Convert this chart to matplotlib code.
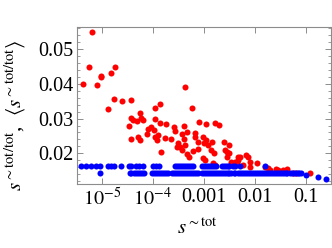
import matplotlib
matplotlib.use("Agg")
import matplotlib.pyplot as plt
from matplotlib.ticker import FixedLocator, FixedFormatter, LogLocator, MultipleLocator

# red points: s~tot/tot per item
red_x = [6.3e-6, 4.3e-6, 5.5e-6, 7.9e-6, 9.4e-6, 9.6e-6, 1.5e-5, 1.8e-5, 1.72e-5, 2.45e-5,
         1.3e-5, 3.75e-5, 3.7e-5, 4.1e-5, 4.8e-5, 5.55e-5, 5.8e-5, 6.4e-5, 3.4e-5, 3.8e-5,
         5.0e-5, 5.5e-5, 7.6e-5, 7.9e-5, 9.0e-5, 1.06e-4, 1.1e-4, 1.11e-4, 1.38e-4, 1.38e-4,
         1.12e-4, 1.23e-4, 1.25e-4, 1.45e-4, 1.8e-4, 1.74e-4, 4.27e-4, 5.9e-4, 7.9e-4, 1.1e-3,
         1.65e-3, 1.97e-3, 2.55e-4, 2.7e-4, 4.1e-4, 3.75e-4, 4.7e-4, 2.3e-4, 3.15e-4, 2.95e-4,
         3.4e-4, 3.7e-4, 4.1e-4, 4.25e-4, 5.1e-4, 4.7e-4, 6.2e-4, 6.7e-4, 6.6e-4, 7.7e-4,
         7.7e-4, 9.7e-4, 1.0e-3, 1.13e-3, 1.2e-3, 1.37e-3, 1.48e-3, 1.57e-3, 9.7e-4, 1.05e-3,
         2.5e-3, 2.6e-3, 2.9e-3, 3.2e-3, 3.2e-3, 2.85e-3, 3.5e-3, 4.05e-3, 4.7e-3, 4.7e-3,
         1.5e-3, 1.65e-3, 5.1e-3, 6.9e-3, 7.4e-3, 8.0e-3, 4.45e-3, 5.9e-3, 8.0e-3, 1.13e-2,
         1.57e-2, 1.8e-2, 1.97e-2, 2.58e-2, 2.85e-2, 3.6e-2, 4.25e-2, 5.55e-2, 6.6e-2, 0.12]
red_y = [0.0549, 0.0400, 0.0450, 0.0396, 0.0421, 0.0424, 0.0432, 0.0450, 0.0356, 0.0351,
         0.0329, 0.0354, 0.0301, 0.0296, 0.0294, 0.0315, 0.0303, 0.0295, 0.0280, 0.0242,
         0.0246, 0.0238, 0.0256, 0.0269, 0.0276, 0.0267, 0.0298, 0.0330, 0.0341, 0.0286,
         0.0246, 0.0238, 0.0253, 0.0205, 0.0285, 0.0243, 0.0392, 0.0330, 0.0289, 0.0284,
         0.0287, 0.0281, 0.0277, 0.0265, 0.0280, 0.0256, 0.0262, 0.0240, 0.0229, 0.0219,
         0.0219, 0.0210, 0.0240, 0.0224, 0.0190, 0.0198, 0.0208, 0.0258, 0.0248, 0.0233,
         0.0212, 0.0246, 0.0229, 0.0238, 0.0224, 0.0210, 0.0233, 0.0200, 0.0186, 0.0181,
         0.0233, 0.0210, 0.0205, 0.0202, 0.0224, 0.0190, 0.0176, 0.0176, 0.0190, 0.0181,
         0.0171, 0.0166, 0.0190, 0.0195, 0.0190, 0.0176, 0.0175, 0.0166, 0.0161, 0.0171,
         0.0161, 0.0157, 0.0152, 0.0155, 0.0152, 0.0152, 0.0154, 0.0142, 0.0142, 0.0142]

# blue points: averages, sitting on two levels plus a small tail
blue_upper_level = 0.01634
blue_upper_x = [3.9e-6, 4.85e-6, 6.1e-6, 7.8e-6, 9.1e-6, 1.3e-5, 1.5e-5, 1.76e-5, 2.4e-5, 3.45e-5,
                3.8e-5, 4.75e-5, 5.4e-5, 6.4e-5, 1.02e-4, 1.14e-4, 1.31e-4, 2.7e-4, 2.95e-4, 3.2e-4,
                3.55e-4, 3.9e-4, 4.2e-4, 4.6e-4, 5.1e-4, 5.55e-4, 6.1e-4, 9.1e-4, 1.0e-3, 1.09e-3,
                1.2e-3, 1.31e-3, 1.43e-3, 1.57e-3, 1.72e-3, 2.25e-3, 2.47e-3, 2.7e-3, 2.95e-3, 3.2e-3,
                3.7e-3, 4.2e-3, 5.1e-3, 1.57e-2]
blue_lower_level = 0.01424
blue_lower_x = [9.1e-6, 3.5e-5, 3.8e-5, 4.2e-5, 4.6e-5, 5.0e-5, 5.5e-5, 6.0e-5, 6.7e-5, 9.6e-5,
                1.05e-4, 1.14e-4, 1.25e-4, 1.37e-4, 1.5e-4, 1.64e-4, 1.8e-4, 1.97e-4, 2.36e-4, 2.58e-4,
                2.82e-4, 3.1e-4, 3.4e-4, 3.7e-4, 4.05e-4, 4.4e-4, 4.85e-4, 5.3e-4, 5.8e-4, 6.4e-4,
                7.0e-4, 7.6e-4, 9.1e-4, 1.0e-3, 1.09e-3, 1.2e-3, 1.31e-3, 1.43e-3, 1.57e-3, 1.72e-3,
                1.88e-3, 2.06e-3, 2.25e-3, 2.47e-3, 2.7e-3, 2.95e-3, 3.2e-3, 3.5e-3, 3.9e-3, 4.2e-3,
                4.6e-3, 5.1e-3, 5.55e-3, 6.1e-3, 6.7e-3, 7.3e-3, 8.0e-3, 8.7e-3, 9.5e-3, 1.04e-2,
                1.14e-2, 1.25e-2, 1.37e-2, 1.5e-2, 1.64e-2, 1.8e-2, 1.97e-2, 2.15e-2, 2.36e-2, 2.58e-2,
                2.82e-2, 3.1e-2, 3.4e-2, 3.7e-2, 4.05e-2, 4.4e-2, 4.85e-2, 5.3e-2, 5.8e-2, 6.4e-2,
                7.0e-2, 7.6e-2, 8.3e-2]
blue_tail_x = [0.104, 0.174, 0.255]
blue_tail_y = [0.01375, 0.0131, 0.0125]

x_ticks = [1e-5, 1e-4, 1e-3, 1e-2, 1e-1]
x_tick_labels = [r"$10^{-5}$", r"$10^{-4}$", "0.001", "0.01", "0.1"]
y_ticks = [0.02, 0.03, 0.04, 0.05]
y_tick_labels = ["0.02", "0.03", "0.04", "0.05"]

plt.rcParams["font.family"] = "Liberation Serif"
plt.rcParams["mathtext.fontset"] = "stix"

frame_gray = "#8c8c8c"
dot = 19

fig = plt.figure(figsize=(3.32, 2.48), dpi=100)
ax = fig.add_axes([0.233, 0.258, 0.764, 0.632])

ax.scatter(red_x, red_y, s=dot, color="red", linewidths=0, zorder=2)
ax.scatter(blue_upper_x, [blue_upper_level] * len(blue_upper_x), s=dot, color="blue",
           linewidths=0, zorder=3)
ax.scatter(blue_lower_x, [blue_lower_level] * len(blue_lower_x), s=dot, color="blue",
           linewidths=0, zorder=3)
ax.scatter(blue_tail_x, blue_tail_y, s=dot, color="blue", linewidths=0, zorder=3)

ax.set_xscale("log")
ax.set_xlim(10 ** -5.484, 10 ** -0.5)
ax.set_ylim(0.01115, 0.0563)

ax.xaxis.set_major_locator(FixedLocator(x_ticks))
ax.xaxis.set_major_formatter(FixedFormatter(x_tick_labels))
ax.xaxis.set_minor_locator(LogLocator(base=10, subs=range(2, 10)))
ax.xaxis.set_minor_formatter(plt.NullFormatter())
ax.yaxis.set_major_locator(FixedLocator(y_ticks))
ax.yaxis.set_major_formatter(FixedFormatter(y_tick_labels))
ax.yaxis.set_minor_locator(MultipleLocator(0.002))

for sp in ax.spines.values():
    sp.set_color(frame_gray)
    sp.set_linewidth(0.8)

ax.tick_params(which="both", direction="in", top=True, right=True, color=frame_gray,
               labelsize=14.5, labelcolor="black")
ax.tick_params(which="major", length=4.5, width=0.7, pad=3)
ax.tick_params(which="minor", length=2.2, width=0.6)

fig.text(0.596, 0.077, r"$s^{\sim\mathrm{tot}}$", fontsize=15, ha="center", va="center")
fig.text(0.045, 0.535,
         r"$s^{\sim\mathrm{tot/tot}}$,  $\langle s^{\sim\mathrm{tot/tot}}\rangle$",
         fontsize=15, rotation=90, ha="center", va="center")

fig.savefig("out.png", dpi=100)
